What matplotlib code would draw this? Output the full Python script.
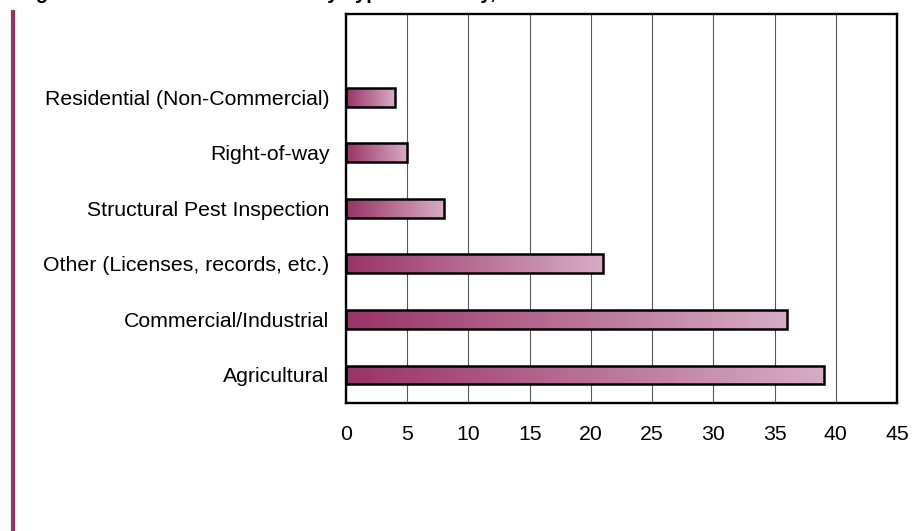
import numpy as np
import matplotlib
matplotlib.use('Agg')
from matplotlib import pyplot as plt
from matplotlib.patches import Rectangle
from matplotlib.colors import LinearSegmentedColormap
from matplotlib.lines import Line2D

plt.rcParams['font.family'] = ['Liberation Sans', 'DejaVu Sans']

# categories from bottom to top
categories = ['Agricultural', 'Commercial/Industrial',
              'Other (Licenses, records, etc.)', 'Structural Pest Inspection',
              'Right-of-way', 'Residential (Non-Commercial)']
values = [39, 36, 21, 8, 5, 4]
xticks = [0, 5, 10, 15, 20, 25, 30, 35, 40, 45]

plum = '#983366'
cmap = LinearSegmentedColormap.from_list('plum', [plum, '#d8acc6'])
grad = np.linspace(0, 1, 256).reshape(1, -1)

fig = plt.figure(figsize=(9.13, 5.31), dpi=100)
ax = fig.add_axes([0.379, 0.2416, 0.6035, 0.732])

h = 0.34
for i, v in enumerate(values):
    im = ax.imshow(grad, cmap=cmap, aspect='auto', interpolation='bicubic',
                   extent=[0, v, i - h / 2, i + h / 2], zorder=3)
    rect = Rectangle((0, i - h / 2), v, h, facecolor='none',
                     edgecolor='black', lw=1.8, zorder=4)
    ax.add_patch(rect)
    im.set_clip_path(rect)

ax.set_xlim(0, 45)
ax.set_ylim(-0.5, 6.5)
ax.set_xticks(xticks)
ax.set_yticks(range(len(categories)))
ax.set_yticklabels(categories)
ax.tick_params(length=0, labelsize=15.3)
ax.tick_params(axis='x', pad=16)
ax.tick_params(axis='y', pad=12)
ax.grid(axis='x', color='#5a5a5a', lw=0.8, zorder=1)
ax.set_axisbelow(True)
for s in ax.spines.values():
    s.set_linewidth(1.7)

# plum rule down the left margin
fig.add_artist(Line2D([13 / 913, 13 / 913], [0, 1 - 12 / 531],
                      transform=fig.transFigure, color=plum, lw=3))

# title sits mostly above the page edge
fig.text(18 / 913, 1 + 1 / 531,
         'Figure 3. Number of Violations by Type of Activity, 2006',
         fontsize=14.5, fontweight='bold', va='baseline', ha='left')

fig.savefig('out.png', dpi=100)
